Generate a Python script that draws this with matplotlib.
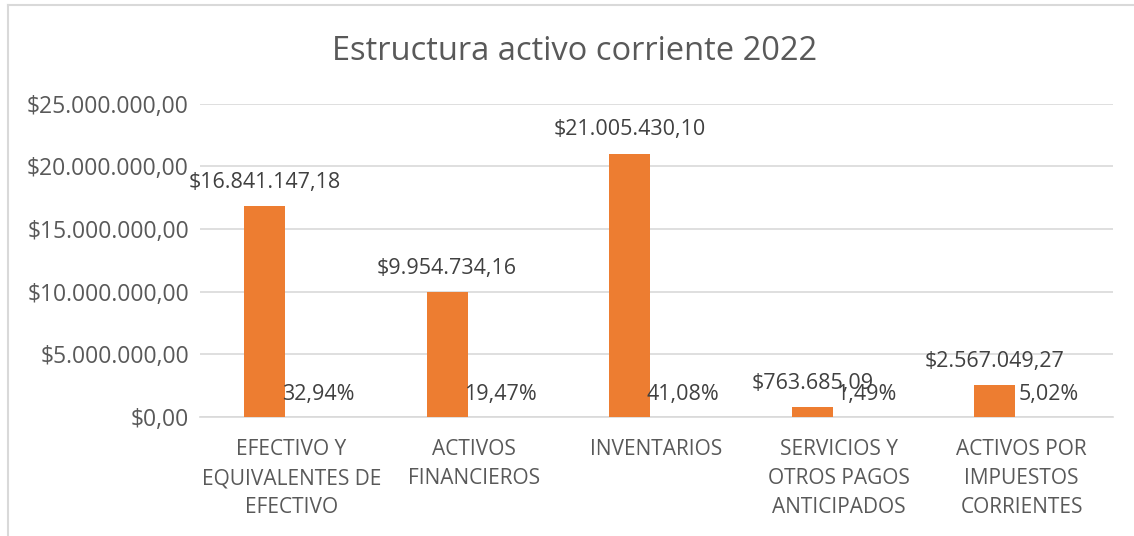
import numpy as np
import matplotlib.pyplot as plt
from matplotlib.lines import Line2D

plt.rcParams['font.family'] = ['Open Sans', 'DejaVu Sans']

categorias = ['EFECTIVO Y\nEQUIVALENTES DE\nEFECTIVO', 'ACTIVOS\nFINANCIEROS', 'INVENTARIOS',
              'SERVICIOS Y\nOTROS PAGOS\nANTICIPADOS', 'ACTIVOS POR\nIMPUESTOS\nCORRIENTES']
valores = [16841147.18, 9954734.16, 21005430.10, 763685.09, 2567049.27]
porcentajes = [0.3294, 0.1947, 0.4108, 0.0149, 0.0502]
yticks = [0, 5e6, 10e6, 15e6, 20e6, 25e6]

gris = '#595959'
naranja = '#ED7D31'


def moneda(v):
    s = f'{v:,.2f}'
    return '$' + s.replace(',', 'X').replace('.', ',').replace('X', '.')


W, H = 1134, 536
fig = plt.figure(figsize=(W / 100, H / 100), dpi=100)
ax = fig.add_axes([200 / W, (H - 417) / H, 913 / W, 313.5 / H])

x = np.arange(len(categorias))
w = 0.225
d = 0.147
ax.bar(x - d, valores, width=w, color=naranja, zorder=3)
ax.bar(x + d, porcentajes, width=w, color='#A5A5A5', zorder=3)

# etiquetas de datos
for xi, v in zip(x, valores):
    ax.annotate(moneda(v), (xi - d, v), xytext=(0, 17), textcoords='offset points',
                ha='center', va='center', fontsize=15.5, color='#404040')
for xi, p in zip(x, porcentajes):
    ax.annotate(f'{p * 100:.2f}%'.replace('.', ','), (xi + d, 0), xytext=(0, 16),
                textcoords='offset points', ha='center', va='center', fontsize=15.5, color='#404040')

ax.set_xlim(-0.5, len(categorias) - 0.5)
ax.set_ylim(0, 25e6)
ax.set_yticks(yticks)
ax.set_yticklabels([moneda(t) for t in yticks], fontsize=16.5, color=gris)
ax.set_xticks(x)
ax.set_xticklabels(categorias, fontsize=15, color=gris, linespacing=1.5)
ax.tick_params(axis='y', length=0, pad=8)
ax.tick_params(axis='x', length=0, pad=16)
ax.grid(axis='y', color='#D9D9D9', linewidth=1.2, zorder=0)
for s in ['top', 'right', 'left']:
    ax.spines[s].set_visible(False)
ax.spines['bottom'].set_color('#D9D9D9')
ax.spines['bottom'].set_linewidth(1.2)

fig.text(575 / W, 1 - 52 / H, 'Estructura activo corriente 2022', ha='center', va='center',
         fontsize=23.5, color=gris)

# borde del gráfico
fig.add_artist(Line2D([8 / W, 8 / W], [0, 1 - 5 / H], transform=fig.transFigure,
                      color='#D9D9D9', linewidth=1.5))
fig.add_artist(Line2D([8 / W, 1], [1 - 5 / H, 1 - 5 / H], transform=fig.transFigure,
                      color='#D9D9D9', linewidth=1.5))

plt.savefig('out.png', dpi=100)
